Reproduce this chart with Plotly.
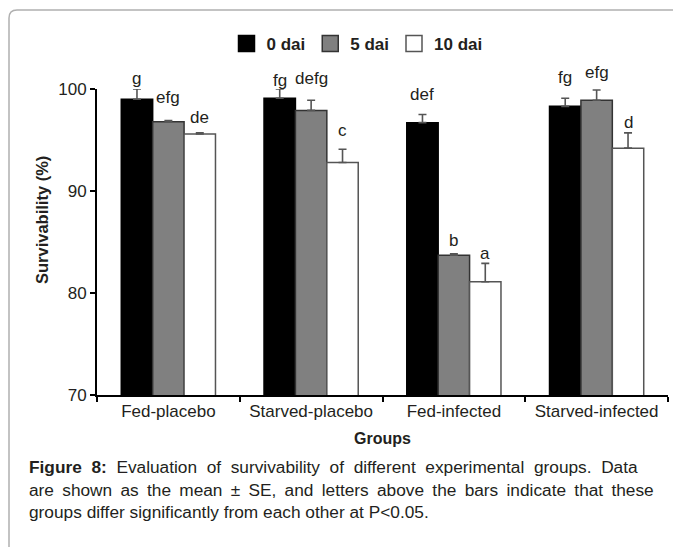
import plotly.graph_objects as go

# ---- data ----
groups = ["Fed-placebo", "Starved-placebo", "Fed-infected", "Starved-infected"]
series_names = ["0 dai", "5 dai", "10 dai"]
dai0 = [99.0, 99.1, 96.7, 98.3]
dai5 = [96.8, 97.9, 83.7, 98.9]
dai10 = [95.6, 92.8, 81.1, 94.2]
se0 = [1.0, 0.9, 0.8, 0.8]
se5 = [0.1, 1.0, 0.15, 1.0]
se10 = [0.1, 1.3, 1.8, 1.5]
letters0 = ["g", "fg", "def", "fg"]
letters5 = ["efg", "defg", "b", "efg"]
letters10 = ["de", "c", "a", "d"]
y_ticks = [70, 80, 90, 100]

# ---- styles / layout (page body adds an 8px offset) ----
OFF = 8
W, H = 681, 547
ML, MR, MT = 97 - OFF, 21, 89 - OFF
MB = H - (395 - OFF)
PW, PH = W - ML - MR, H - MT - MB
BARGAP = 0.34
fills = ["#000000", "#808080", "#ffffff"]
edges = ["#000000", "#333333", "#555555"]
letter_offsets = [
    [11, 23, 15],
    [9, 22, 19],
    [20, 13, 10],
    [21, 18, 10],
]
FONT = "Liberation Sans, Arial, sans-serif"
TXT = "#231f20"

values = [dai0, dai5, dai10]
errs = [se0, se5, se10]
letters = [letters0, letters5, letters10]

fig = go.Figure()
for i in range(3):
    fig.add_trace(go.Bar(
        x=groups, y=values[i], name=series_names[i], showlegend=False,
        marker=dict(color=fills[i], line=dict(color=edges[i], width=1.5)),
        error_y=dict(type="data", array=errs[i], arrayminus=[0] * len(groups),
                     symmetric=False, color="#555555", thickness=1.6, width=4),
        cliponaxis=False,
    ))
# legend entries with larger square swatches
for i in range(3):
    fig.add_trace(go.Scatter(
        x=[None], y=[None], mode="markers", name=series_names[i],
        marker=dict(symbol="square", size=16, color=fills[i],
                    line=dict(color=edges[i], width=1.5)),
    ))

def px2x(p):
    return (p - OFF - ML) / PW

def py2y(p):
    return (H - MB - (p - OFF)) / PH

bar_px = PW / len(groups) * (1 - BARGAP) / 3
annotations = []
for i in range(3):
    for j, g in enumerate(groups):
        annotations.append(dict(
            x=g, y=values[i][j] + errs[i][j], xref="x", yref="y",
            text=letters[i][j], showarrow=False,
            xshift=(i - 1) * bar_px, yshift=letter_offsets[j][i],
            yanchor="middle", font=dict(size=17, color=TXT, family=FONT),
        ))

# y-axis title
annotations.append(dict(
    x=px2x(42), y=py2y(220), xref="paper", yref="paper",
    text="<b>Survivability (%)</b>", showarrow=False, textangle=-90,
    xanchor="center", yanchor="middle", font=dict(size=16.5, color=TXT, family=FONT),
))

NB = "\u00a0"
TH = "\u2009"
caption_lines = [
    "<b>Figure 8:</b> Evaluation of survivability of different experimental groups. Data",
    "are shown as the mean ± SE, and letters above the bars indicate that these",
    "groups differ significantly from each other at P<0.05.",
]
# emulate the justified lines by widening the word gaps
caption_lines[0] = caption_lines[0].replace(" ", " " + NB).replace("<b>Figure" + NB, "<b>Figure ")
caption_lines[1] = caption_lines[1].replace(" ", " " + TH)
caption_y = [467, 490, 512]
for line, yy in zip(caption_lines, caption_y):
    annotations.append(dict(
        x=px2x(27), y=py2y(yy), xref="paper", yref="paper", text=line,
        showarrow=False, xanchor="left", yanchor="middle",
        font=dict(size=17.3, color=TXT, family=FONT),
    ))

# frame around figure with rounded top-left corner
x0, x1 = px2x(9), px2x(W + 20)
y0, y1 = py2y(10), py2y(H + 20)
rx, ry = 8 / PW, 8 / PH
frame_path = (f"M {x0},{y1} L {x0},{y0 - ry} Q {x0},{y0} {x0 + rx},{y0} L {x1},{y0}")

fig.update_layout(
    width=W, height=H,
    margin=dict(l=ML, r=MR, t=MT, b=MB),
    plot_bgcolor="white", paper_bgcolor="white",
    barmode="group", bargap=BARGAP, bargroupgap=0,
    font=dict(family=FONT, color=TXT, size=14),
    legend=dict(orientation="h", x=px2x(357), xanchor="center", y=py2y(44),
                yanchor="middle", font=dict(size=17, family=FONT, color=TXT,
                                            weight="bold"),
                itemwidth=30, traceorder="normal"),
    annotations=annotations,
    shapes=[dict(type="path", path=frame_path, xref="paper", yref="paper",
                 line=dict(color="#b0b0b0", width=1.5))],
    xaxis=dict(
        showline=True, linecolor="#000000", linewidth=2,
        ticks="outside", tickson="boundaries", ticklen=5, tickcolor="#000000",
        tickwidth=1.5, tickfont=dict(size=17, color=TXT),
        title=dict(text="<b>Groups</b>", font=dict(size=16, color=TXT), standoff=12),
        showgrid=False,
    ),
    yaxis=dict(
        range=[70, 100], tickvals=y_ticks, showline=True, linecolor="#000000",
        linewidth=2, ticks="outside", ticklen=5, tickcolor="#000000", tickwidth=1.5,
        tickfont=dict(size=17, color=TXT), showgrid=False, zeroline=False,
    ),
)

fig.write_html("out.html")
